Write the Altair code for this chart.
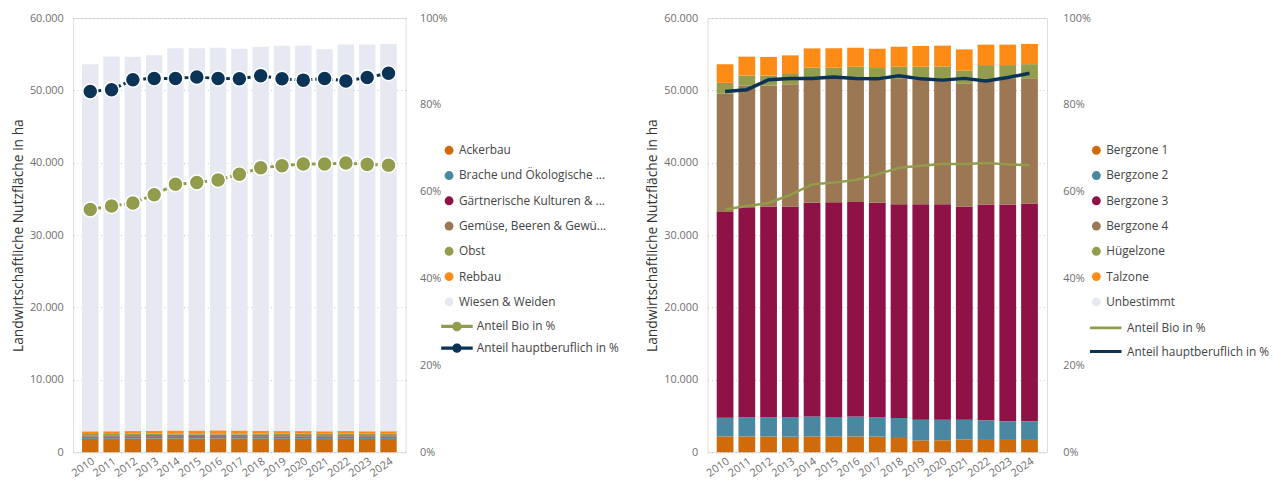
import altair as alt
import pandas as pd

years = ["2010", "2011", "2012", "2013", "2014", "2015", "2016", "2017",
         "2018", "2019", "2020", "2021", "2022", "2023", "2024"]

# ---- left panel: land use (ha) ----
cats_left = ["Ackerbau", "Brache und Ökologische ...", "Gärtnerische Kulturen & ...",
             "Gemüse, Beeren & Gewü...", "Obst", "Rebbau", "Wiesen & Weiden"]
ackerbau = [1850, 1860, 1870, 1880, 1900, 1910, 1910, 1900, 1880, 1860, 1860, 1850, 1860, 1850, 1850]
brache = [240, 240, 240, 250, 260, 260, 260, 260, 250, 250, 250, 250, 250, 250, 250]
gaertnerisch = [60, 60, 60, 60, 60, 60, 60, 60, 60, 60, 60, 60, 60, 60, 60]
gemuese = [190, 190, 200, 200, 210, 210, 210, 210, 210, 200, 200, 200, 200, 200, 200]
obst = [180, 180, 180, 180, 180, 180, 180, 180, 180, 180, 180, 180, 180, 180, 180]
rebbau = [370, 370, 370, 380, 390, 390, 400, 400, 390, 370, 370, 360, 370, 360, 370]
wiesen = [50740, 51780, 51720, 51910, 52820, 52810, 52890, 52760, 53080, 53240, 53280, 52780, 53420, 53440, 53520]

# ---- right panel: zones (ha) ----
cats_right = ["Bergzone 1", "Bergzone 2", "Bergzone 3", "Bergzone 4",
              "Hügelzone", "Talzone", "Unbestimmt"]
bergzone1 = [2180, 2180, 2160, 2150, 2170, 2180, 2180, 2160, 2100, 1640, 1650, 1770, 1700, 1700, 1700]
bergzone2 = [2590, 2680, 2700, 2710, 2770, 2680, 2760, 2700, 2630, 2860, 2850, 2730, 2710, 2570, 2570]
bergzone3 = [28410, 29000, 29100, 29100, 29520, 29690, 29650, 29600, 29540, 29770, 29770, 29460, 29820, 29960, 30090]
bergzone4 = [16360, 16820, 16720, 16900, 17040, 17040, 17000, 17040, 17410, 17230, 17050, 16950, 17360, 17360, 17320]
huegelzone = [1500, 1370, 1370, 1410, 1640, 1550, 1680, 1590, 1590, 1770, 2000, 1860, 1910, 1910, 1950]
talzone = [2580, 2620, 2580, 2580, 2670, 2670, 2630, 2670, 2770, 2880, 2870, 2900, 2830, 2830, 2790]
unbestimmt = [10, 10, 10, 10, 10, 10, 10, 10, 10, 10, 10, 10, 10, 10, 10]

# ---- shares (fraction) ----
series = ["Anteil Bio in %", "Anteil hauptberuflich in %"]
anteil_bio = [0.559, 0.567, 0.574, 0.593, 0.617, 0.621, 0.627, 0.640, 0.655, 0.660, 0.664, 0.664, 0.666, 0.663, 0.661]
anteil_haupt = [0.831, 0.835, 0.858, 0.861, 0.861, 0.864, 0.861, 0.860, 0.867, 0.860, 0.857, 0.861, 0.855, 0.863, 0.873]

bar_colors = ["#D06B0C", "#4A87A1", "#8E1245", "#9B7753", "#949C4D", "#FF8B17", "#E6E9F2"]
line_colors = ["#939B4C", "#0B3355"]

FONT = "Open Sans"


def long_df(cats, arrays):
    rows = []
    for i, (c, vals) in enumerate(zip(cats, arrays)):
        for y, v in zip(years, vals):
            rows.append({"Jahr": y, "Kategorie": c, "Wert": v, "Ord": i})
    return pd.DataFrame(rows)


left_df = long_df(cats_left, [ackerbau, brache, gaertnerisch, gemuese, obst, rebbau, wiesen])
right_df = long_df(cats_right, [bergzone1, bergzone2, bergzone3, bergzone4, huegelzone, talzone, unbestimmt])
line_df = pd.DataFrame(
    [{"Jahr": y, "Serie": series[0], "Anteil": v} for y, v in zip(years, anteil_bio)]
    + [{"Jahr": y, "Serie": series[1], "Anteil": v} for y, v in zip(years, anteil_haupt)]
)

LINE_DOT_PATH = ("M-1,-0.1 L1,-0.1 L1,0.1 L-1,0.1 Z "
                 "M0.3,0 A0.3,0.3 0 1,1 -0.3,0 A0.3,0.3 0 1,1 0.3,0 Z")


def legend_for(lx, ly, stype, ssize, sstroke, rowpad):
    return alt.Legend(title=None, orient="none", legendX=lx, legendY=ly,
                      symbolType=stype, symbolSize=ssize, symbolStrokeWidth=sstroke,
                      padding=0, rowPadding=rowpad, labelOffset=4, labelLimit=0,
                      labelFont=FONT, labelFontSize=12, labelColor="#444444")


def panel(bar_df, cats, width, legend_x, right_pad, with_points):
    x_enc = alt.X(
        "Jahr:O", title=None,
        scale=alt.Scale(paddingInner=0.23, paddingOuter=0.42),
        axis=alt.Axis(labelAngle=325, labelAlign="right", labelBaseline="top",
                      domain=False, ticks=False, labelPadding=3,
                      labelColor="#6E6E6E", labelFontSize=11, labelFont=FONT),
    )
    bars = alt.Chart(bar_df).mark_bar().encode(
        x=x_enc,
        y=alt.Y("Wert:Q", stack="zero",
                scale=alt.Scale(domain=[0, 60000], nice=False),
                axis=alt.Axis(title="Landwirtschaftliche Nutzfläche in ha",
                              values=[0, 10000, 20000, 30000, 40000, 50000, 60000],
                              labelExpr="replace(format(datum.value, ','), ',', '.')",
                              grid=True, gridDash=[1, 3], gridColor="#BFBFBF",
                              domain=False, ticks=False, labelPadding=10,
                              titlePadding=4, labelColor="#6E6E6E", labelFontSize=11,
                              labelFont=FONT, titleFont=FONT, titleFontSize=14,
                              titleFontWeight="normal", titleColor="#333333")),
        color=alt.Color("Kategorie:N",
                        scale=alt.Scale(domain=cats, range=bar_colors),
                        legend=legend_for(legend_x, 128, "circle", 81, 0, 13.6)),
        order=alt.Order("Ord:Q", sort="ascending"),
    )

    right_axis = alt.Axis(title=None, orient="right", format="%",
                          values=[0, 0.2, 0.4, 0.6, 0.8, 1.0],
                          grid=False, domain=False, ticks=False,
                          labelPadding=right_pad, labelColor="#6E6E6E",
                          labelFontSize=11, labelFont=FONT)
    color_scale = alt.Scale(domain=series, range=line_colors)

    if with_points:
        line = alt.Chart(line_df).mark_line(strokeWidth=3, strokeDash=[4, 3]).encode(
            x=alt.X("Jahr:O"),
            y=alt.Y("Anteil:Q", scale=alt.Scale(domain=[0, 1], nice=False), axis=right_axis),
            color=alt.Color("Serie:N", scale=color_scale, legend=None),
        )
        pts = alt.Chart(line_df).mark_point(filled=True, size=230, opacity=1,
                                            stroke="white", strokeWidth=1.5).encode(
            x=alt.X("Jahr:O"),
            y=alt.Y("Anteil:Q", scale=alt.Scale(domain=[0, 1], nice=False), axis=None),
            color=alt.Color("Serie:N", scale=color_scale,
                            legend=legend_for(legend_x - 2, 296.5, LINE_DOT_PATH, 1024, 0, 0)),
        )
        layers = [bars, line, pts]
    else:
        line = alt.Chart(line_df).mark_line().encode(
            x=alt.X("Jahr:O"),
            y=alt.Y("Anteil:Q", scale=alt.Scale(domain=[0, 1], nice=False), axis=right_axis),
            color=alt.Color("Serie:N", scale=color_scale,
                            legend=legend_for(legend_x - 2, 296.5, "stroke", 1024, 3, 0)),
            strokeWidth=alt.StrokeWidth("Serie:N",
                                        scale=alt.Scale(domain=series, range=[2.5, 3.5]),
                                        legend=None),
        )
        layers = [bars, line]

    return alt.layer(*layers).resolve_scale(
        y="independent", color="independent"
    ).properties(width=width, height=440)


left = panel(left_df, cats_left, 337, 375, 14, True)
right = panel(right_df, cats_right, 344, 388, 16, False)

chart = alt.hconcat(left, right, spacing=306, bounds="flush").resolve_scale(
    color="independent", strokeWidth="independent"
).properties(
    padding={"left": 3, "top": 0, "right": 0, "bottom": 0}
).configure_view(strokeWidth=0).configure(font=FONT)

chart.save("out.html", embed_options={"renderer": "svg", "actions": False})
